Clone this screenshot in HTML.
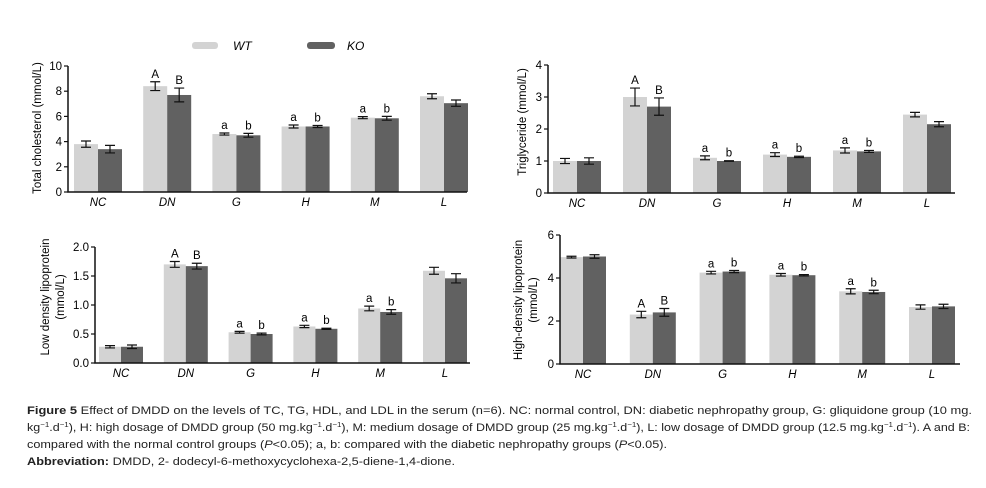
<!DOCTYPE html>
<html><head><meta charset="utf-8">
<style>
html,body{margin:0;padding:0;background:#fff;}
svg{display:block;font-family:"Liberation Sans",sans-serif;}
</style></head>
<body>
<svg id="fig" width="986" height="488" viewBox="0 0 986 488">
<g id="legend">
  <rect x="192" y="42" width="26" height="7" rx="3" fill="#d3d3d3"/>
  <text x="233" y="50" font-size="12" font-style="italic">WT</text>
  <rect x="307" y="42" width="28" height="7" rx="3" fill="#616161"/>
  <text x="347" y="50" font-size="12" font-style="italic">KO</text>
</g>
<g id="charts"></g>
<g id="caption" font-size="11" fill="#222">
  <text x="27" y="414" textLength="945" lengthAdjust="spacingAndGlyphs"><tspan font-weight="bold">Figure 5</tspan> Effect of DMDD on the levels of TC, TG, HDL, and LDL in the serum (n=6). NC: normal control, DN: diabetic nephropathy group, G: gliquidone group (10 mg.</text>
  <text x="27" y="431" textLength="943" lengthAdjust="spacingAndGlyphs">kg<tspan dy="-4" font-size="7">−1</tspan><tspan dy="4">.d</tspan><tspan dy="-4" font-size="7">−1</tspan><tspan dy="4">), H: high dosage of DMDD group (50 mg.kg</tspan><tspan dy="-4" font-size="7">−1</tspan><tspan dy="4">.d</tspan><tspan dy="-4" font-size="7">−1</tspan><tspan dy="4">), M: medium dosage of DMDD group (25 mg.kg</tspan><tspan dy="-4" font-size="7">−1</tspan><tspan dy="4">.d</tspan><tspan dy="-4" font-size="7">−1</tspan><tspan dy="4">), L: low dosage of DMDD group (12.5 mg.kg</tspan><tspan dy="-4" font-size="7">−1</tspan><tspan dy="4">.d</tspan><tspan dy="-4" font-size="7">−1</tspan><tspan dy="4">). A and B:</tspan></text>
  <text x="27" y="448" textLength="640" lengthAdjust="spacingAndGlyphs">compared with the normal control groups (<tspan font-style="italic">P</tspan>&lt;0.05); a, b: compared with the diabetic nephropathy groups (<tspan font-style="italic">P</tspan>&lt;0.05).</text>
  <text x="27" y="465" textLength="428" lengthAdjust="spacingAndGlyphs"><tspan font-weight="bold">Abbreviation:</tspan> DMDD, 2- dodecyl-6-methoxycyclohexa-2,5-diene-1,4-dione.</text>
</g>
</svg>
<script>
const categories = ["NC","DN","G","H","M","L"];
const letters = ["","A","a","a","a",""];
const lettersKO = ["","B","b","b","b",""];
const tcWT = [3.8,8.4,4.6,5.2,5.9,7.6];
const tcWTerr = [0.25,0.35,0.08,0.12,0.08,0.2];
const tcKO = [3.4,7.7,4.5,5.2,5.85,7.05];
const tcKOerr = [0.3,0.55,0.15,0.08,0.15,0.25];
const tcTicks = [0,2,4,6,8,10];
const tgWT = [1.0,3.0,1.1,1.2,1.33,2.45];
const tgWTerr = [0.08,0.28,0.06,0.06,0.08,0.07];
const tgKO = [1.0,2.7,1.0,1.13,1.3,2.15];
const tgKOerr = [0.1,0.27,0.01,0.02,0.03,0.08];
const tgTicks = [0,1,2,3,4];
const ldlWT = [0.28,1.7,0.53,0.63,0.94,1.59];
const ldlWTerr = [0.02,0.05,0.015,0.02,0.04,0.06];
const ldlKO = [0.28,1.67,0.5,0.59,0.88,1.46];
const ldlKOerr = [0.03,0.05,0.015,0.01,0.04,0.08];
const ldlTicks = [0,0.5,1.0,1.5,2.0];
const ldlTickLabels = ["0.0","0.5","1.0","1.5","2.0"];
const hdlWT = [4.97,2.3,4.25,4.15,3.38,2.65];
const hdlWTerr = [0.04,0.15,0.06,0.06,0.12,0.1];
const hdlKO = [5.0,2.4,4.3,4.13,3.35,2.68];
const hdlKOerr = [0.08,0.18,0.05,0.03,0.08,0.1];
const hdlTicks = [0,2,4,6];

const NS = "http://www.w3.org/2000/svg";
const root = document.getElementById("charts");
function mk(tag, attrs, parent){
  const e = document.createElementNS(NS, tag);
  for (const k in attrs) e.setAttribute(k, attrs[k]);
  parent.appendChild(e);
  return e;
}
function chart(c){
  const g = mk("g", {}, root);
  
  
  const y = v => c.y0 - (v - 0) / c.max * (c.y0 - c.yTop);
  const xc = i => c.c0 + i * c.step;
  // bars
  categories.forEach((cat, i) => {
    [[c.wt, c.wtErr, "#d3d3d3", -1, letters[i], "wt"], [c.ko, c.koErr, "#616161", 0, lettersKO[i], "ko"]].forEach(s => {
      const v = s[0][i], e = s[1][i];
      const x = xc(i) + s[3] * c.bw;
      const r = mk("rect", {x: x, y: y(v), width: c.bw, height: c.y0 - y(v), fill: s[2]}, g);
      
      
      const cx = x + c.bw / 2;
      const eb = mk("path", {d: `M${cx-5},${y(v+e)}H${cx+5}M${cx},${y(v+e)}V${y(v-e)}M${cx-5},${y(v-e)}H${cx+5}`, stroke: "#111", "stroke-width": 1.2, fill: "none"}, g);
      
      
      if (s[4]) {
        const t = mk("text", {x: cx, y: y(v+e) - 4, "font-size": 11.5, "text-anchor": "middle"}, g);
        t.textContent = s[4];
        
        
      }
    });
    const lt = mk("text", {x: xc(i), y: c.y0 + 14, "font-size": 11.5, "font-style": "italic", "text-anchor": "middle"}, g);
    lt.textContent = cat;
    
    
  });
  // axes
  const ax = mk("path", {d: `M${c.ax},${c.yTop}V${c.y0}H${c.xEnd}`, stroke: "#111", "stroke-width": 1.5, fill: "none"}, g);
  
  
  c.ticks.forEach((tv, k) => {
    mk("line", {x1: c.ax - 4, x2: c.ax, y1: y(tv), y2: y(tv), stroke: "#111", "stroke-width": 1.2}, g);
    const t = mk("text", {x: c.ax - 6, y: y(tv) + 4, "font-size": 11.5, "text-anchor": "end"}, g);
    t.textContent = c.tickLabels ? c.tickLabels[k] : String(tv);
    
    
  });
  c.title.forEach((line, k) => {
    const tx = c.tx + k * 15, ty = c.ty;
    const t = mk("text", {x: tx, y: ty, "font-size": 11.5, "text-anchor": "middle", transform: `rotate(-90 ${tx} ${ty})`}, g);
    t.textContent = line;
    
    
  });
}
chart({name:"chart-total-cholesterol", wt:tcWT, wtErr:tcWTerr, ko:tcKO, koErr:tcKOerr, ticks:tcTicks, max:10, y0:192, yTop:66, ax:68, xEnd:467, c0:98, step:69.2, bw:24, title:["Total cholesterol (mmol/L)"], tx:41, ty:128});
chart({name:"chart-triglyceride", wt:tgWT, wtErr:tgWTerr, ko:tgKO, koErr:tgKOerr, ticks:tgTicks, max:4, y0:193, yTop:65, ax:548, xEnd:955, c0:577, step:70, bw:24, title:["Triglyceride (mmol/L)"], tx:526, ty:122});
chart({name:"chart-ldl", wt:ldlWT, wtErr:ldlWTerr, ko:ldlKO, koErr:ldlKOerr, ticks:ldlTicks, tickLabels:ldlTickLabels, max:2, y0:363, yTop:247, ax:95, xEnd:470, c0:121, step:64.8, bw:22, title:["Low density lipoprotein","(mmol/L)"], tx:49, ty:297});
chart({name:"chart-hdl", wt:hdlWT, wtErr:hdlWTerr, ko:hdlKO, koErr:hdlKOerr, ticks:hdlTicks, max:6, y0:364, yTop:235, ax:560, xEnd:960, c0:583, step:69.8, bw:23, title:["High-density lipoprotein","(mmol/L)"], tx:522, ty:300});
</script>
</body></html>
